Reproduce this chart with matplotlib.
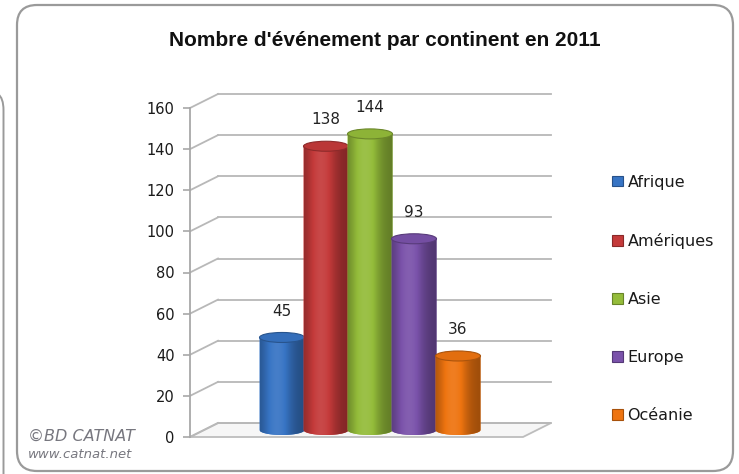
import numpy as np
import matplotlib
matplotlib.use('Agg')
import matplotlib.pyplot as plt
from matplotlib.patches import Ellipse, Polygon, PathPatch, FancyBboxPatch, Patch
from matplotlib.path import Path
from matplotlib.transforms import ScaledTranslation
import matplotlib.colors as mcolors

title = "Nombre d'événement par continent en 2011"
continents = ['Afrique', 'Amériques', 'Asie', 'Europe', 'Océanie']
values = [45, 138, 144, 93, 36]
colors = ['#3774c4', '#c43a3a', '#94bc3a', '#7a52aa', '#ee7410']
y_ticks = [0, 20, 40, 60, 80, 100, 120, 140, 160]

W, H = 739, 474
fig = plt.figure(figsize=(W / 100, H / 100), dpi=100)
fig.patch.set_facecolor('white')
PX = fig.dpi_scale_trans  # coordinates in inches -> px/100


def P(x, y):
    """pixel (from top-left) to inches (bottom-left)"""
    return (x / 100, (H - y) / 100)


# outer frames
frame = FancyBboxPatch(P(17, 471), (733 - 17) / 100, (471 - 5) / 100,
                       boxstyle='round,pad=0,rounding_size=0.2',
                       transform=PX, facecolor='none', edgecolor='#9a9a9a',
                       lw=1.6, zorder=-5)
fig.patches.append(frame)
side = Path([P(-2, 94), P(3.5, 98), P(3.5, 110), P(3.5, 474)],
            [Path.MOVETO, Path.CURVE3, Path.CURVE3, Path.LINETO])
fig.patches.append(PathPatch(side, transform=PX, facecolor='none',
                             edgecolor='#9a9a9a', lw=1.4, zorder=-5))

# plot axes
X_CENTER0, X_SCALE = 268, 44.0
X0 = (190 - X_CENTER0) / X_SCALE
X1 = (523 - X_CENTER0) / X_SCALE
ax = fig.add_axes([190 / W, (H - 437) / H, (523 - 190) / W, (437 - 108) / H])
ax.set_xlim(X0, X1)
ax.set_ylim(0, 160)
ax.patch.set_alpha(0)
y_scale = (437 - 108) / 160.0

DEPTH_X, DEPTH_Y = 28, 14
DXd = DEPTH_X / X_SCALE
DYd = DEPTH_Y / y_scale
back = ax.transData + ScaledTranslation(DEPTH_X / 100, DEPTH_Y / 100, PX)
mid = ax.transData + ScaledTranslation(DEPTH_X / 200, DEPTH_Y / 200, PX)

grid_c = '#b8b8b8'
# floor
floor = Polygon([(X0, 0), (X1, 0), (X1 + DXd, DYd), (X0 + DXd, DYd)],
                closed=True, facecolor='#f6f6f6', edgecolor='#bdbdbd', lw=1.3,
                clip_on=False, zorder=1)
ax.add_patch(floor)
for t in y_ticks:
    ax.plot([X0, X1], [t, t], transform=back, color=grid_c, lw=1.3,
            clip_on=False, zorder=1)
    ax.plot([X0, X0 + DXd], [t, t + DYd], color=grid_c, lw=1.3,
            clip_on=False, zorder=1)

for s in ['top', 'right', 'bottom']:
    ax.spines[s].set_visible(False)
ax.spines['left'].set_color('#a8a8a8')
ax.spines['left'].set_linewidth(1.3)
ax.set_xticks([])
ax.set_yticks(y_ticks)
ax.set_yticklabels([str(t) for t in y_ticks])
ax.tick_params(axis='y', length=5, width=1.2, color='#a8a8a8', labelsize=10.5,
               labelcolor='#1a1a1a', pad=6)


def shade_img(c, n=64):
    rgb = np.array(mcolors.to_rgb(c))
    x = np.linspace(0, 1, n)
    s = 0.66 + 0.46 * np.exp(-((x - 0.38) / 0.32) ** 2)
    img = np.empty((1, n, 3))
    for k, sv in enumerate(s):
        if sv <= 1:
            img[0, k] = rgb * sv
        else:
            img[0, k] = rgb + (1 - rgb) * (sv - 1) * 0.6
    return np.clip(img, 0, 1)


bw = 45 / X_SCALE
eh = 10 / y_scale
for i, (v, c) in enumerate(zip(values, colors)):
    z = 3 + i
    th = np.linspace(np.pi, 2 * np.pi, 40)
    verts = [(i - bw / 2, v)] + [(i + bw / 2 * np.cos(a), eh / 2 * np.sin(a)) for a in th] + [(i + bw / 2, v), (i - bw / 2, v)]
    codes = [Path.MOVETO] + [Path.LINETO] * (len(verts) - 2) + [Path.CLOSEPOLY]
    body = PathPatch(Path(verts, codes), facecolor=c, edgecolor='none',
                     transform=mid, zorder=z, clip_on=False)
    ax.add_patch(body)
    im = ax.imshow(shade_img(c), extent=[i - bw / 2, i + bw / 2, -eh / 2 - 1, v],
                   transform=mid, aspect='auto', interpolation='bilinear',
                   zorder=z + 0.1)
    im.set_clip_path(body)
    rgb = np.array(mcolors.to_rgb(c))
    top = Ellipse((i, v), bw, eh, transform=mid, facecolor=rgb * 0.95,
                  edgecolor=rgb * 0.72, lw=0.8, zorder=z + 0.2, clip_on=False)
    ax.add_patch(top)
    ax.annotate(str(v), xy=(i, v), xycoords=mid, xytext=(0, 19),
                textcoords='offset points', ha='center', va='center',
                fontsize=11, color='#222222', zorder=20, annotation_clip=False)

ax.set_xlim(X0, X1)
ax.set_ylim(0, 160)

# title
fig.text(385 / W, 1 - 40 / H, title, ha='center', va='center', fontsize=15,
         fontweight='bold', family=['Liberation Sans', 'DejaVu Sans'],
         color='#111111')

# legend
handles = [Patch(facecolor=c, edgecolor=np.array(mcolors.to_rgb(c)) * 0.7, lw=0.8)
           for c in colors]
fig.legend(handles, continents, loc='center left',
           bbox_to_anchor=(598 / W, 1 - 299 / H), frameon=False, fontsize=11.5,
           handlelength=0.65, handleheight=0.65, handletextpad=0.3,
           labelspacing=2.7, labelcolor='#1a1a1a')

# watermark
fig.text(28 / W, 1 - 436 / H, '©BD CATNAT', ha='left', va='center', fontsize=11.5,
         style='italic', color='#77777f')
fig.text(28 / W, 1 - 455 / H, 'www.catnat.net', ha='left', va='center', fontsize=9.5,
         style='italic', color='#77777f')

fig.savefig('out.png', dpi=100, facecolor='white')
